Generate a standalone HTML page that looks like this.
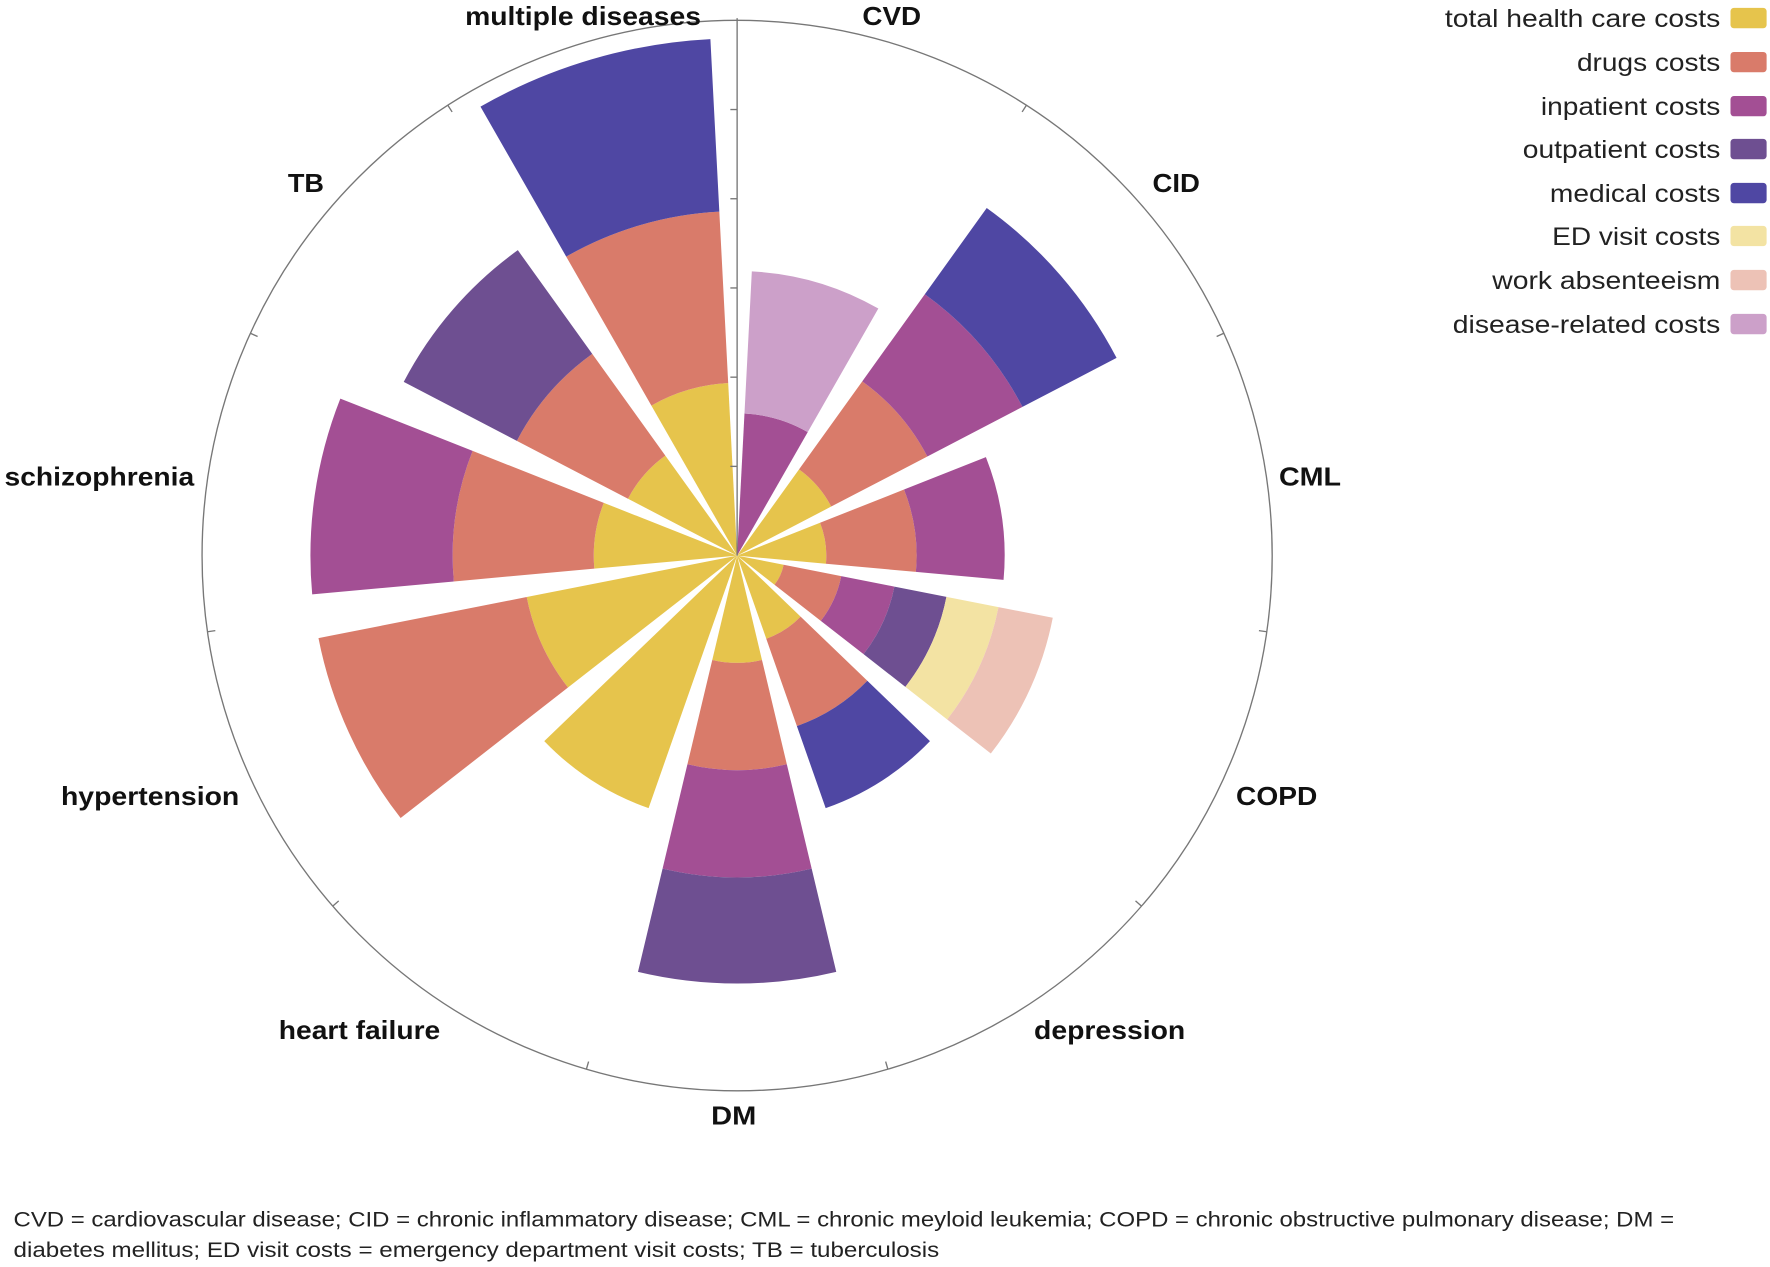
<!DOCTYPE html>
<html><head><meta charset="utf-8"><style>
html,body{margin:0;padding:0;background:#fff;}
svg{display:block;}
</style></head><body>
<svg id="s" width="1770" height="1267" viewBox="0 0 1568 1122" preserveAspectRatio="none" xmlns="http://www.w3.org/2000/svg" font-family="Liberation Sans, Arial, sans-serif">
<rect width="1568" height="1122" fill="#fff"/>
<g id="bars"></g>
<circle cx="653" cy="492" r="474" fill="none" stroke="#777" stroke-width="1.2"/>
<g id="ticks" stroke="#777" stroke-width="1.2"></g>
<line x1="653" y1="492" x2="653" y2="16" stroke="#777" stroke-width="1.2"/>
<g font-weight="bold" font-size="23" fill="#111" lengthAdjust="spacingAndGlyphs">
<text x="764" y="22" textLength="52" lengthAdjust="spacingAndGlyphs">CVD</text>
<text x="1021" y="170" textLength="42" lengthAdjust="spacingAndGlyphs">CID</text>
<text x="1133" y="430" textLength="55" lengthAdjust="spacingAndGlyphs">CML</text>
<text x="1095" y="713" textLength="72" lengthAdjust="spacingAndGlyphs">COPD</text>
<text x="916" y="920" textLength="134" lengthAdjust="spacingAndGlyphs">depression</text>
<text x="630" y="996" textLength="40" lengthAdjust="spacingAndGlyphs">DM</text>
<text x="247" y="920" textLength="143" lengthAdjust="spacingAndGlyphs">heart failure</text>
<text x="54" y="713" textLength="158" lengthAdjust="spacingAndGlyphs">hypertension</text>
<text x="4" y="430" textLength="168" lengthAdjust="spacingAndGlyphs">schizophrenia</text>
<text x="255" y="170" textLength="32" lengthAdjust="spacingAndGlyphs">TB</text>
<text x="412" y="22" textLength="209" lengthAdjust="spacingAndGlyphs">multiple diseases</text>
</g>
<g font-size="22" fill="#222">
<text x="1280" y="24" textLength="244" lengthAdjust="spacingAndGlyphs">total health care costs</text>
<text x="1397" y="63" textLength="127" lengthAdjust="spacingAndGlyphs">drugs costs</text>
<text x="1365" y="102" textLength="159" lengthAdjust="spacingAndGlyphs">inpatient costs</text>
<text x="1349" y="140" textLength="175" lengthAdjust="spacingAndGlyphs">outpatient costs</text>
<text x="1373" y="179" textLength="151" lengthAdjust="spacingAndGlyphs">medical costs</text>
<text x="1375" y="217" textLength="149" lengthAdjust="spacingAndGlyphs">ED visit costs</text>
<text x="1322" y="256" textLength="202" lengthAdjust="spacingAndGlyphs">work absenteeism</text>
<text x="1287" y="295" textLength="237" lengthAdjust="spacingAndGlyphs">disease-related costs</text>
</g>
<g>
<rect x="1533" y="7" width="32" height="18" rx="3" fill="#E6C44C"/>
<rect x="1533" y="46" width="32" height="18" rx="3" fill="#D97B6A"/>
<rect x="1533" y="85" width="32" height="18" rx="3" fill="#A34F94"/>
<rect x="1533" y="123" width="32" height="18" rx="3" fill="#6E4F91"/>
<rect x="1533" y="162" width="32" height="18" rx="3" fill="#4F47A3"/>
<rect x="1533" y="200" width="32" height="18" rx="3" fill="#F3E3A3"/>
<rect x="1533" y="239" width="32" height="18" rx="3" fill="#EDC2B6"/>
<rect x="1533" y="278" width="32" height="18" rx="3" fill="#CCA0C9"/>
</g>
<g font-size="19" fill="#222">
<text x="12" y="1086" textLength="1471" lengthAdjust="spacingAndGlyphs">CVD = cardiovascular disease; CID = chronic inflammatory disease; CML = chronic meyloid leukemia; COPD = chronic obstructive pulmonary disease; DM =</text>
<text x="12" y="1113" textLength="820" lengthAdjust="spacingAndGlyphs">diabetes mellitus; ED visit costs = emergency department visit costs; TB = tuberculosis</text>
</g>
</svg>
<script>
(function(){
var cx=653,cy=492;
var Y="#E6C44C",O="#D97B6A",P="#A34F94",U="#6E4F91",B="#4F47A3",E="#F3E3A3",W="#EDC2B6",L="#CCA0C9";
var data=[
 [[P,126],[L,252]],
 [[Y,94],[O,190],[P,285],[B,379]],
 [[Y,79],[O,159],[P,237]],
 [[Y,42],[O,94],[P,142],[U,189],[E,236],[W,285]],
 [[Y,78],[O,160],[B,237]],
 [[Y,95],[O,190],[P,285],[U,379]],
 [[Y,237]],
 [[Y,190],[O,378]],
 [[Y,127],[O,252],[P,378]],
 [[Y,109],[O,220],[U,333]],
 [[Y,153],[O,305],[B,458]]
];
var step=360/11,half=13.4;
function pt(r,a){var t=a*Math.PI/180;return [cx+r*Math.sin(t),cy-r*Math.cos(t)];}
var g=document.getElementById('bars'),h='';
data.forEach(function(segs,i){
 var c=step*(i+0.5),a1=c-half,a2=c+half,r0=0;
 segs.forEach(function(s){
  var r1=s[1],p1=pt(r0,a1),p2=pt(r1,a1),p3=pt(r1,a2),p4=pt(r0,a2);
  var d='M'+p1[0]+','+p1[1]+' L'+p2[0]+','+p2[1]+' A'+r1+','+r1+' 0 0 1 '+p3[0]+','+p3[1]+' L'+p4[0]+','+p4[1];
  if(r0>0) d+=' A'+r0+','+r0+' 0 0 0 '+p1[0]+','+p1[1];
  d+=' Z';
  h+='<path d="'+d+'" fill="'+s[0]+'"/>';
  r0=r1;
 });
});
g.innerHTML=h;
var t='';
for(var k=1;k<11;k++){var a=step*k,p=pt(474,a),q=pt(467,a);t+='<line x1="'+p[0]+'" y1="'+p[1]+'" x2="'+q[0]+'" y2="'+q[1]+'"/>';}
for(var j=1;j<6;j++){var yy=cy-79*j;t+='<line x1="647" y1="'+yy+'" x2="653" y2="'+yy+'"/>';}
document.getElementById('ticks').innerHTML=t;
})();
</script>
</body></html>
